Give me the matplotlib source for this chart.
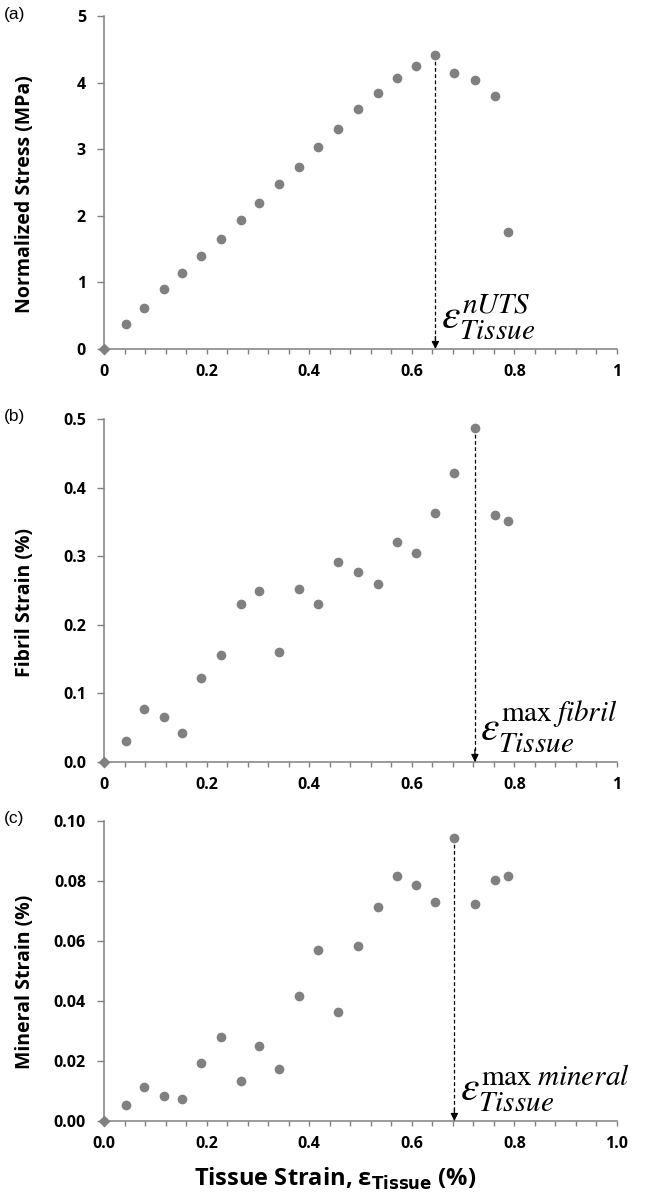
import matplotlib
matplotlib.use("Agg")
import matplotlib.pyplot as plt
from matplotlib.ticker import MultipleLocator, FormatStrFormatter, FuncFormatter

# tissue strain (%) shared by all three panels
tissue_strain = [0.0, 0.042, 0.078, 0.116, 0.153, 0.190, 0.228, 0.267, 0.303, 0.341, 0.380,
                 0.418, 0.457, 0.496, 0.534, 0.571, 0.608, 0.646, 0.683, 0.723, 0.762, 0.787]

# (a) normalized stress, MPa
stress = [0.0, 0.37, 0.62, 0.90, 1.14, 1.39, 1.65, 1.94, 2.19, 2.47, 2.74,
          3.03, 3.31, 3.60, 3.84, 4.07, 4.25, 4.41, 4.15, 4.04, 3.80, 1.75]

# (b) fibril strain, %
fibril = [0.0, 0.030, 0.077, 0.066, 0.043, 0.123, 0.156, 0.231, 0.250, 0.161, 0.252,
          0.231, 0.291, 0.277, 0.259, 0.321, 0.305, 0.363, 0.422, 0.487, 0.360, 0.352]

# (c) mineral strain, %
mineral = [0.0, 0.0052, 0.0115, 0.0085, 0.0074, 0.0193, 0.0279, 0.0134, 0.0249, 0.0172, 0.0417,
           0.0570, 0.0365, 0.0585, 0.0712, 0.0817, 0.0786, 0.0731, 0.0943, 0.0724, 0.0805, 0.0817]

panels = [
    dict(y=stress, tag="(a)", ylabel="Normalized Stress (MPa)", ymax=5, ystep=1, yfmt="%d",
         note=r"$\varepsilon^{nUTS}_{Tissue}$", box=(16, 349)),
    dict(y=fibril, tag="(b)", ylabel="Fibril Strain (%)", ymax=0.5, ystep=0.1, yfmt="%.1f",
         note=r"$\varepsilon^{\max\;fibril}_{Tissue}$", box=(419, 762)),
    dict(y=mineral, tag="(c)", ylabel="Mineral Strain (%)", ymax=0.10, ystep=0.02, yfmt="%.2f",
         note=r"$\varepsilon^{\max\;mineral}_{Tissue}$", box=(821, 1121)),
]

W, H = 645, 1194
plt.rcParams["font.family"] = ["Open Sans", "DejaVu Sans"]
fig = plt.figure(figsize=(W / 100, H / 100), dpi=100)

grey = "#808080"
dot = "#808080"
left, right = 104, 617

for i, p in enumerate(panels):
    top, bot = p["box"]
    ax = fig.add_axes([left / W, 1 - bot / H, (right - left) / W, (bot - top) / H])
    ax.plot(tissue_strain[1:], p["y"][1:], "o", color=dot, ms=7, mec="none", clip_on=False, zorder=3)
    ax.plot(tissue_strain[:1], p["y"][:1], "D", color=dot, ms=6, mec="none", clip_on=False, zorder=3)

    ax.set_xlim(0, 1)
    ax.set_ylim(0, p["ymax"])
    for s in ["top", "right"]:
        ax.spines[s].set_visible(False)
    for s in ["left", "bottom"]:
        ax.spines[s].set_color(grey)
        ax.spines[s].set_linewidth(1.1)

    ax.xaxis.set_major_locator(MultipleLocator(0.2))
    ax.xaxis.set_minor_locator(MultipleLocator(0.04))
    ax.yaxis.set_major_locator(MultipleLocator(p["ystep"]))
    if i == 2:
        ax.xaxis.set_major_formatter(FormatStrFormatter("%.1f"))
    else:
        ax.xaxis.set_major_formatter(FuncFormatter(lambda v, pos: "%g" % round(v, 2)))
    ax.yaxis.set_major_formatter(FormatStrFormatter(p["yfmt"]))
    ax.tick_params(axis="x", which="both", direction="out", length=3.5, width=1, color=grey,
                   labelsize=11.5, pad=7)
    ax.tick_params(axis="y", which="major", direction="out", length=5, width=1, color=grey,
                   labelsize=11.5, pad=8)
    for lab in ax.get_xticklabels() + ax.get_yticklabels():
        lab.set_fontweight("bold")

    ax.set_ylabel(p["ylabel"], fontsize=14, fontweight="bold")
    ax.yaxis.set_label_coords((35 - left) / (right - left), 0.465)

    fig.text(4 / W, 1 - (top - 2) / H, p["tag"], fontsize=12.5, family="Liberation Sans",
             ha="left", va="center")

    # dashed drop line from the peak point to the axis, with arrow head
    k = max(range(len(p["y"])), key=lambda j: p["y"][j])
    xk, yk = tissue_strain[k], p["y"][k]
    ax.plot([xk, xk], [yk, 0], ls=(0, (3, 2)), color="black", lw=0.9, zorder=2)
    ax.annotate("", xy=(xk, 0), xytext=(0, 9), textcoords="offset points",
                arrowprops=dict(arrowstyle="-|>", color="black", lw=0.9, mutation_scale=11,
                                shrinkA=0, shrinkB=0))
    ax.annotate(p["note"], xy=(xk, 0), xytext=(4, 5), textcoords="offset points",
                ha="left", va="bottom", fontsize=30, math_fontfamily="stix")

    if i == 2:
        ax.set_xlabel(r"Tissue Strain, ε$_{\mathbf{Tissue}}$ (%)", fontsize=17, fontweight="bold",
                      math_fontfamily="dejavusans")
        ax.xaxis.set_label_coords((335 - left) / (right - left), (bot - 1166) / (bot - top))

fig.savefig("out.png", dpi=100)
